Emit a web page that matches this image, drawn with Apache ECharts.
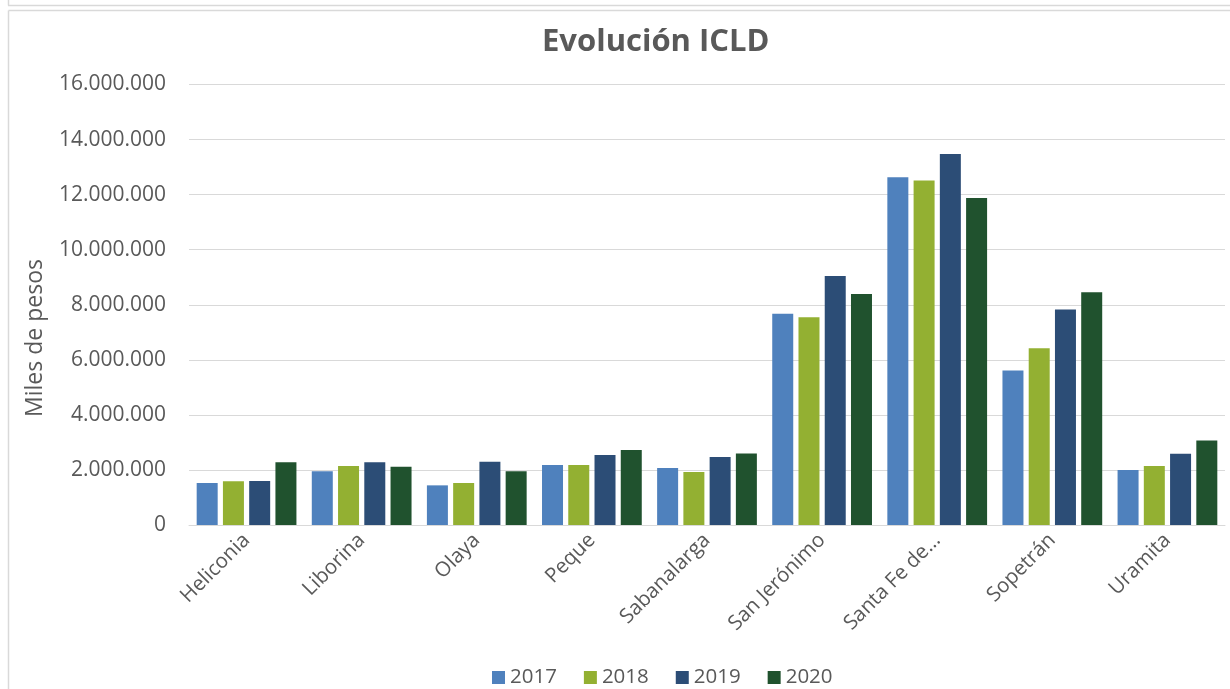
<!DOCTYPE html>
<html>
<head>
<meta charset="utf-8">
<script src="https://cdn.jsdelivr.net/npm/echarts@6/dist/echarts.min.js"></script>
<style>
html,body{margin:0;padding:0;background:#fff;}
#main{width:1230px;height:689px;}
</style>
</head>
<body>
<div id="main"></div>
<script>
const categories = ['Heliconia','Liborina','Olaya','Peque','Sabanalarga','San Jerónimo','Santa Fe de...','Sopetrán','Uramita'];
const seriesNames = ['2017','2018','2019','2020'];
const v2017 = [1527000, 1950000, 1440000, 2180000, 2070000, 7670000, 12630000, 5610000, 2000000];
const v2018 = [1590000, 2145000, 1527000, 2180000, 1927000, 7550000, 12510000, 6420000, 2145000];
const v2019 = [1600000, 2280000, 2300000, 2545000, 2473000, 9040000, 13480000, 7830000, 2590000];
const v2020 = [2280000, 2120000, 1950000, 2727000, 2593000, 8390000, 11880000, 8450000, 3070000];
const colors = ['#4F81BD', '#93B032', '#2C4D76', '#20522E'];
const allValues = [v2017, v2018, v2019, v2020];

const fmt = v => String(v).replace(/\B(?=(\d{3})+(?!\d))/g, '.');
const FONT = '"Open Sans", sans-serif';
const chart = echarts.init(document.getElementById('main'), null, {renderer: 'canvas'});

chart.setOption({
  animation: false,
  backgroundColor: '#fff',
  color: colors,
  title: {
    text: 'Evolución ICLD',
    left: 537, top: 22,
    textStyle: {fontFamily: FONT, fontWeight: 'bold', fontSize: 31, color: '#595959'}
  },
  legend: {
    data: seriesNames,
    left: 487, top: 662,
    itemWidth: 13, itemHeight: 13, itemGap: 27,
    icon: 'rect',
    textStyle: {fontFamily: FONT, fontSize: 20.5, color: '#595959'}
  },
  grid: {left: 189, right: 5, top: 84.5, bottom: 164, containLabel: false},
  xAxis: {
    type: 'category',
    data: categories,
    axisLine: {show: true, lineStyle: {color: '#D9D9D9', width: 1}},
    axisTick: {show: false},
    axisLabel: {rotate: 45, margin: 12, fontFamily: FONT, fontSize: 20.5, color: '#595959', interval: 0}
  },
  yAxis: {
    type: 'value',
    min: 0, max: 16000000, interval: 2000000,
    axisLine: {show: false},
    axisTick: {show: false},
    splitLine: {lineStyle: {color: '#D9D9D9', width: 1}},
    axisLabel: {margin: 23, fontFamily: FONT, fontSize: 21, color: '#595959', formatter: fmt}
  },
  graphic: [
    {type: 'line', shape: {x1: 8, y1: 5.5, x2: 1230, y2: 5.5}, style: {stroke: '#D9D9D9', lineWidth: 1.5}},
    {type: 'line', shape: {x1: 8.5, y1: 0, x2: 8.5, y2: 5.5}, style: {stroke: '#D9D9D9', lineWidth: 1.5}},
    {type: 'line', shape: {x1: 8.5, y1: 10.5, x2: 1232, y2: 10.5}, style: {stroke: '#D9D9D9', lineWidth: 1.5}},
    {type: 'line', shape: {x1: 8.5, y1: 10.5, x2: 8.5, y2: 689}, style: {stroke: '#D9D9D9', lineWidth: 1.5}},
    {
      type: 'text', x: 35, y: 338, rotation: Math.PI / 2,
      style: {text: 'Miles de pesos', fontFamily: FONT, fontSize: 23, fill: '#595959', align: 'center', verticalAlign: 'middle'}
    }
  ],
  series: seriesNames.map((name, i) => ({
    name: name,
    type: 'bar',
    data: allValues[i],
    barWidth: 21,
    barGap: '25%',
    itemStyle: {color: colors[i]}
  }))
});
</script>
</body>
</html>
